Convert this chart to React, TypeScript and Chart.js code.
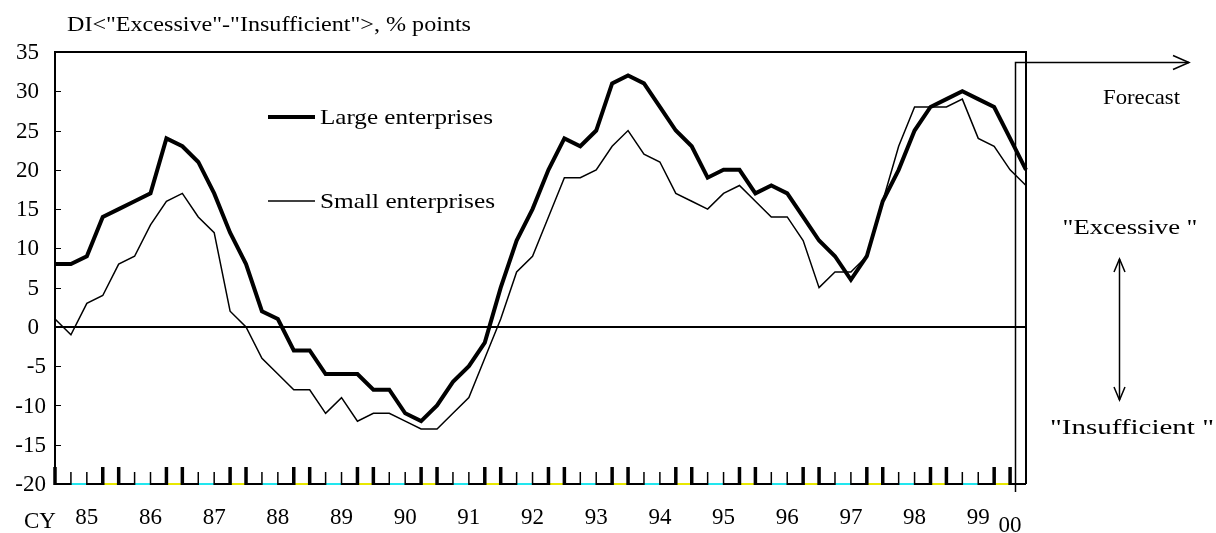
import { useEffect, useRef } from "react";
import { Chart, registerables } from "chart.js";

Chart.register(...registerables);

// Quarterly survey periods, 1985 Q1 through 2000 Q2
const quarterLabels: string[] = [];
for (let yr = 1985; yr <= 2000; yr++) {
  for (let q = 1; q <= 4; q++) quarterLabels.push(`${yr} Q${q}`);
}
quarterLabels.length = 62;

const largeEnterprises = [
  8, 8, 9, 14, 15, 16, 17, 24, 23, 21,
  17, 12, 8, 2, 1, -3, -3, -6, -6, -6,
  -8, -8, -11, -12, -10, -7, -5, -2, 5, 11,
  15, 20, 24, 23, 25, 31, 32, 31, 28, 25,
  23, 19, 20, 20, 17, 18, 17, 14, 11, 9,
  6, 9, 16, 20, 25, 28, 29, 30, 29, 28,
  24, 20,
];

const smallEnterprises = [
  1, -1, 3, 4, 8, 9, 13, 16, 17, 14,
  12, 2, 0, -4, -6, -8, -8, -11, -9, -12,
  -11, -11, -12, -13, -13, -11, -9, -4, 1, 7,
  9, 14, 19, 19, 20, 23, 25, 22, 21, 17,
  16, 15, 17, 18, 16, 14, 14, 11, 5, 7,
  7, 9, 16, 23, 28, 28, 28, 29, 24, 23,
  20, 18,
];

const yTickValues = [35, 30, 25, 20, 15, 10, 5, 0, -5, -10, -15, -20];
const yearLabels = ["85", "86", "87", "88", "89", "90", "91", "92", "93", "94", "95", "96", "97", "98", "99", "00"];

const SERIF = '"Liberation Serif", "Times New Roman", serif';
const NUM_FONT = `23px ${SERIF}`;
const WORD_FONT = `22px ${SERIF}`;

// Draws text squeezed/widened horizontally to span a given width.
function wideText(ctx: CanvasRenderingContext2D, text: string, x: number, y: number, width: number, align: "left" | "center") {
  const natural = ctx.measureText(text).width;
  const sx = width / natural;
  ctx.save();
  ctx.translate(align === "center" ? x - width / 2 : x, y);
  ctx.scale(sx, 1);
  ctx.textAlign = "left";
  ctx.fillText(text, 0, 0);
  ctx.restore();
}

const decorations = {
  id: "decorations",
  beforeDatasetsDraw(chart: any) {
    const { ctx, chartArea } = chart;
    const x = chart.scales.x;
    const y = chart.scales.y;
    const { left, right, top } = chartArea;
    const base = y.getPixelForValue(-20);
    ctx.save();

    // zero line
    ctx.strokeStyle = "#000";
    ctx.lineWidth = 2;
    ctx.beginPath();
    ctx.moveTo(left, y.getPixelForValue(0));
    ctx.lineTo(right, y.getPixelForValue(0));
    ctx.stroke();

    // frame: left, top, right
    ctx.lineWidth = 2;
    ctx.beginPath();
    ctx.moveTo(left, base);
    ctx.lineTo(left, top);
    ctx.lineTo(right, top);
    ctx.lineTo(right, base);
    ctx.stroke();

    // inner y ticks
    ctx.lineWidth = 1;
    yTickValues.forEach((v) => {
      if (v === 35 || v === -20) return;
      const py = Math.round(y.getPixelForValue(v)) + 0.5;
      ctx.beginPath();
      ctx.moveTo(left, py);
      ctx.lineTo(left + 6, py);
      ctx.stroke();
    });

    // baseline segments between quarter ticks
    const n = quarterLabels.length;
    for (let i = 0; i < n - 1; i++) {
      const x0 = x.getPixelForValue(i);
      const x1 = x.getPixelForValue(i + 1);
      const m = i % 4;
      ctx.strokeStyle = m === 1 ? "#22e6ee" : m === 3 ? "#e8e800" : "#000";
      ctx.lineWidth = 2;
      ctx.beginPath();
      ctx.moveTo(x0, base);
      ctx.lineTo(x1, base);
      ctx.stroke();
    }

    // quarter tick marks
    ctx.strokeStyle = "#000";
    for (let i = 0; i < n - 1; i++) {
      const px = x.getPixelForValue(i);
      const m = i % 4;
      const big = m === 0 || m === 3;
      ctx.lineWidth = big ? 3.5 : 1.5;
      ctx.beginPath();
      ctx.moveTo(px, base + 1);
      ctx.lineTo(px, big ? base - 17 : base - 12);
      ctx.stroke();
    }
    ctx.restore();
  },
  afterDatasetsDraw(chart: any) {
    const { ctx, chartArea } = chart;
    const x = chart.scales.x;
    const y = chart.scales.y;
    const { left, top } = chartArea;
    const base = y.getPixelForValue(-20);
    ctx.save();
    ctx.fillStyle = "#000";
    ctx.strokeStyle = "#000";

    // y tick labels
    ctx.font = NUM_FONT;
    ctx.textAlign = "right";
    ctx.textBaseline = "middle";
    yTickValues.forEach((v) => {
      ctx.fillText(String(v), v < 0 ? left - 9 : left - 16, y.getPixelForValue(v) + 1);
    });

    // year labels
    ctx.textAlign = "center";
    yearLabels.forEach((lab, k) => {
      const last = k === yearLabels.length - 1;
      const px = x.getPixelForValue(last ? 60 : k * 4 + 2);
      ctx.fillText(lab, px, base + (last ? 42 : 34));
    });
    ctx.textAlign = "left";
    ctx.fillText("CY", 24, base + 38);

    // title
    ctx.font = WORD_FONT;
    wideText(ctx, 'DI<"Excessive"-"Insufficient">, % points', 67, 25, 404, "left");

    // legend
    const legend = [
      { text: "Large enterprises", width: 4, y: 117, span: 173 },
      { text: "Small enterprises", width: 1.5, y: 201, span: 175 },
    ];
    legend.forEach((item) => {
      ctx.lineWidth = item.width;
      ctx.beginPath();
      ctx.moveTo(268, item.y);
      ctx.lineTo(315, item.y);
      ctx.stroke();
      wideText(ctx, item.text, 320, item.y + 1, item.span, "left");
    });

    // forecast marker
    const p60 = x.getPixelForValue(60);
    const p61 = x.getPixelForValue(61);
    const fx = Math.round(p60 + (p61 - p60) * 0.33) + 0.5;
    const fy = top + 10.5;
    ctx.lineWidth = 1.5;
    ctx.beginPath();
    ctx.moveTo(fx, base + 8);
    ctx.lineTo(fx, fy);
    ctx.lineTo(1189, fy);
    ctx.stroke();
    ctx.beginPath();
    ctx.moveTo(1173, fy - 7);
    ctx.lineTo(1189, fy);
    ctx.lineTo(1173, fy + 7);
    ctx.stroke();
    ctx.font = `21px ${SERIF}`;
    wideText(ctx, "Forecast", 1103, 98, 77, "left");

    // excess / shortage annotation
    ctx.font = WORD_FONT;
    wideText(ctx, '"Excessive "', 1130, 228, 135, "center");
    wideText(ctx, '"Insufficient "', 1132, 428, 164, "center");
    const ax = 1119.5;
    ctx.lineWidth = 1.5;
    ctx.beginPath();
    ctx.moveTo(ax, 259);
    ctx.lineTo(ax, 400);
    ctx.stroke();
    ctx.beginPath();
    ctx.moveTo(ax - 5.5, 272);
    ctx.lineTo(ax, 259);
    ctx.lineTo(ax + 5.5, 272);
    ctx.moveTo(ax - 5.5, 387);
    ctx.lineTo(ax, 400);
    ctx.lineTo(ax + 5.5, 387);
    ctx.stroke();

    ctx.restore();
  },
};

export default function App() {
  const canvasRef = useRef<HTMLCanvasElement | null>(null);

  useEffect(() => {
    if (!canvasRef.current) return;
    const chart = new Chart(canvasRef.current, {
      type: "line",
      data: {
        labels: quarterLabels,
        datasets: [
          {
            label: "Large enterprises",
            data: largeEnterprises,
            borderColor: "#000",
            borderWidth: 4,
            pointRadius: 0,
            tension: 0,
          },
          {
            label: "Small enterprises",
            data: smallEnterprises,
            borderColor: "#000",
            borderWidth: 1.5,
            pointRadius: 0,
            tension: 0,
          },
        ],
      },
      options: {
        animation: false,
        responsive: false,
        devicePixelRatio: 1,
        layout: { padding: { left: 55, top: 52, right: 190, bottom: 49 } },
        plugins: { legend: { display: false }, tooltip: { enabled: false } },
        scales: {
          x: { type: "category", display: false, offset: false },
          y: { type: "linear", display: false, min: -20, max: 35 },
        },
      },
      plugins: [decorations],
    });
    return () => chart.destroy();
  }, []);

  return (
    <div style={{ position: "fixed", left: 0, top: 0, width: 1216, height: 533, background: "#fff" }}>
      <canvas ref={canvasRef} width={1216} height={533} />
    </div>
  );
}
